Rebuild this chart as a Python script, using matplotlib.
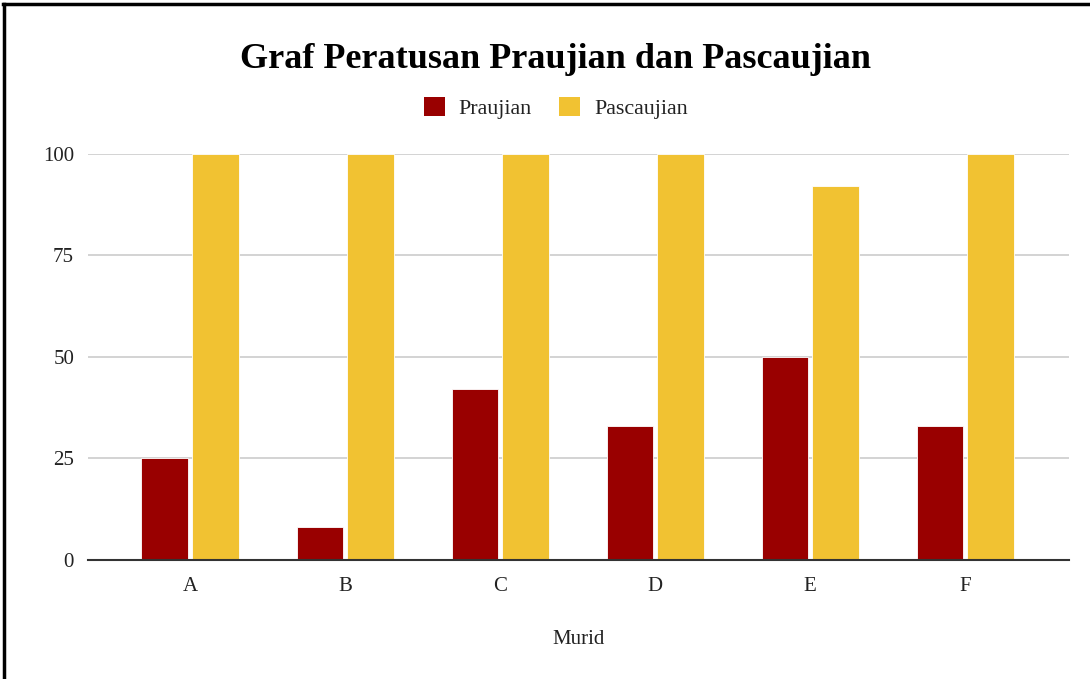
import numpy as np
import matplotlib.pyplot as plt
from matplotlib.patches import Patch
from matplotlib.lines import Line2D

# === DATA ===
murid = ['A', 'B', 'C', 'D', 'E', 'F']
praujian = [25, 8, 42, 33, 50, 33]
pascaujian = [100, 100, 100, 100, 92, 100]
yticks = [0, 25, 50, 75, 100]

# === STYLE ===
plt.rcParams['font.family'] = ['Liberation Serif', 'DejaVu Serif']
c_pra = '#990000'
c_pasca = '#f1c232'

fig = plt.figure(figsize=(10.9, 6.79), dpi=100)
ax = fig.add_axes([0.0807, 0.1753, 0.9003, 0.5979])

x = np.arange(len(murid))
w = 0.30
ax.bar(x - 0.163, praujian, w, color=c_pra, edgecolor='white', linewidth=0.6, zorder=3)
ax.bar(x + 0.163, pascaujian, w, color=c_pasca, edgecolor='white', linewidth=0.6, zorder=3)

ax.set_xlim(-0.658, 5.671)
ax.set_ylim(0, 100)
ax.set_xticks(x)
ax.set_xticklabels(murid)
ax.set_yticks(yticks)
ax.tick_params(axis='both', length=0, labelsize=15, colors='#222222')
ax.tick_params(axis='y', pad=10)
ax.tick_params(axis='x', pad=12)
ax.grid(axis='y', color='#cccccc', linewidth=1.2, zorder=0)
for s in ['top', 'right', 'left']:
    ax.spines[s].set_visible(False)
ax.spines['bottom'].set_color('#333333')
ax.spines['bottom'].set_linewidth(1.5)
ax.spines['bottom'].set_zorder(4)
ax.set_xlabel('Murid', fontsize=15, color='#222222', labelpad=25)

fig.text(0.5095, 1 - 60 / 679, 'Graf Peratusan Praujian dan Pascaujian',
         ha='center', va='center', fontsize=26, fontweight='bold')

handles = [Patch(facecolor=c_pra, label='Praujian'),
           Patch(facecolor=c_pasca, label='Pascaujian')]
fig.legend(handles=handles, loc='center', bbox_to_anchor=(0.51, 1 - 108 / 679),
           ncol=2, frameon=False, fontsize=15.8, handlelength=0.95, handleheight=0.95,
           columnspacing=1.25, handletextpad=0.65, labelcolor='#222222')

# page border
fig.add_artist(Line2D([0.003, 1.0], [1 - 4 / 679, 1 - 4 / 679], color='black', linewidth=2.5))
fig.add_artist(Line2D([0.0037, 0.0037], [0, 1 - 4 / 679], color='black', linewidth=2.5))

fig.savefig('out.png', dpi=100)
